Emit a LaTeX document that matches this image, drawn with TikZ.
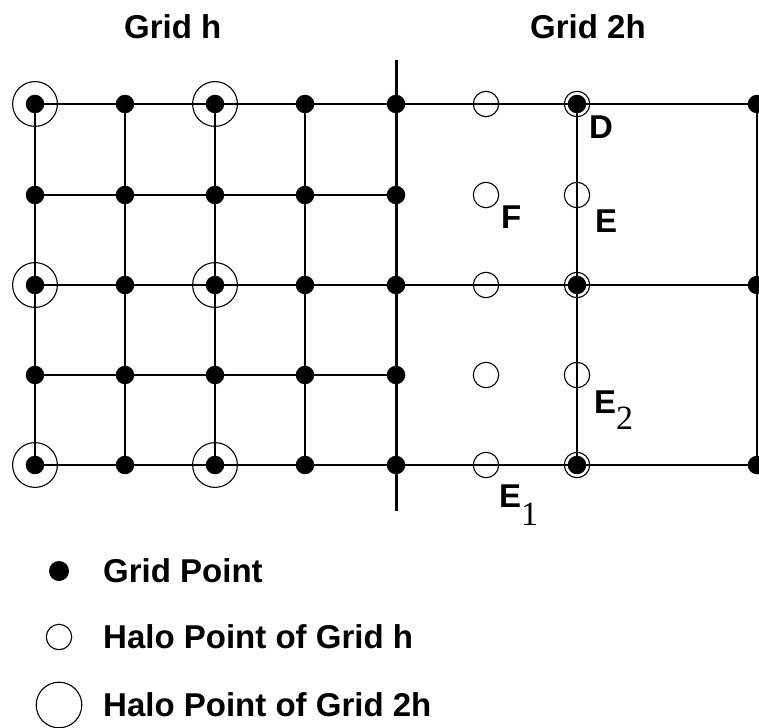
\documentclass[tikz,border=0pt]{standalone}
\usepackage{fontspec}
\setmainfont{Liberation Sans}
\newfontfamily\subfont{Liberation Serif}
\usepackage{tikz}

\begin{document}
\begin{tikzpicture}[x=1pt, y=-1pt,
    every node/.style={font=\fontsize{33}{38}\selectfont\bfseries, inner sep=0pt},
    gpt/.style={circle, fill=black, minimum size=18.5pt},
    haloh/.style={circle, draw, line width=1.1pt, minimum size=25.4pt},
    halotwo/.style={circle, draw, line width=1.1pt, minimum size=44.8pt},
    thinline/.style={line width=1.3pt},
    cutline/.style={line width=3pt}]

\useasboundingbox (0,0) rectangle (759,727);

% Titles
\node[anchor=base west] (tith) at (124,39) {Grid h};
\node[anchor=base west] (tit2h) at (530,39) {Grid 2h};

% Grid h: points, columns 1..5, rows 1..5
\foreach \i/\x in {1/35, 2/125, 3/215, 4/305, 5/396}
  \foreach \j/\y in {1/104, 2/195, 3/285, 4/375, 5/465}
    \node[gpt] (h-\i-\j) at (\x,\y) {};

% Halo points of grid 2h
\node[halotwo] (c-1-1) at (h-1-1) {};
\node[halotwo] (c-3-1) at (h-3-1) {};
\node[halotwo] (c-1-3) at (h-1-3) {};
\node[halotwo] (c-3-3) at (h-3-3) {};
\node[halotwo] (c-1-5) at (h-1-5) {};
\node[halotwo] (c-3-5) at (h-3-5) {};

% Halo points of grid h
\foreach \j/\y in {1/104, 2/195, 3/285, 4/375, 5/465}
  \node[haloh] (f-\j) at (486,\y) {};
\node[haloh] (e-2) at (577,195) {};
\node[haloh] (e-4) at (577,375) {};

% Grid 2h points (D column with halo ring, right column)
\foreach \j/\y in {1/104, 3/285, 5/465} {
  \node[gpt] (d-\j) at (577,\y) {};
  \node[haloh] (dr-\j) at (577,\y) {};
  \node[gpt] (r-\j) at (757,\y) {};
}

% Grid h lines
\foreach \j in {1,...,5}
  \draw[thinline] (h-1-\j.center) -- (h-5-\j.center);
\foreach \i in {1,...,4}
  \draw[thinline] (h-\i-1.center) -- (h-\i-5.center);

% Cut between the grids
\coordinate (cuttop) at (396,60);
\coordinate (cutbot) at (396,511);
\draw[cutline] (cuttop) -- (cutbot);

% Grid 2h lines
\foreach \j in {1,3,5}
  \draw[thinline] (h-5-\j.center) -- (r-\j.center);
\draw[thinline] (d-1.center) -- (d-5.center);
\draw[thinline] (r-1.center) -- (r-5.center);

% Labels
\node[anchor=base west] (labd) at (589,139) {D};
\node[anchor=base west] (labf) at (501,229) {F};
\node[anchor=base west] (labe) at (595,232) {E};
\node[anchor=base west] (labetwo) at (594,413)
  {E\raisebox{-16pt}{\subfont\mdseries\fontsize{34}{38}\selectfont 2}};
\node[anchor=base west] (labeone) at (499,507)
  {E\raisebox{-18pt}{\subfont\mdseries\fontsize{34}{38}\selectfont 1}};

% Legend
\node[gpt, minimum size=20pt] (leg1) at (59,571) {};
\node[haloh] (leg2) at (59,637) {};
\node[halotwo, minimum size=45.6pt] (leg3) at (59,705) {};
\node[anchor=base west] (legt1) at (103,582) {Grid Point};
\node[anchor=base west] (legt2) at (103,648) {Halo Point of Grid h};
\node[anchor=base west] (legt3) at (103,716) {Halo Point of Grid 2h};

\end{tikzpicture}
\end{document}
